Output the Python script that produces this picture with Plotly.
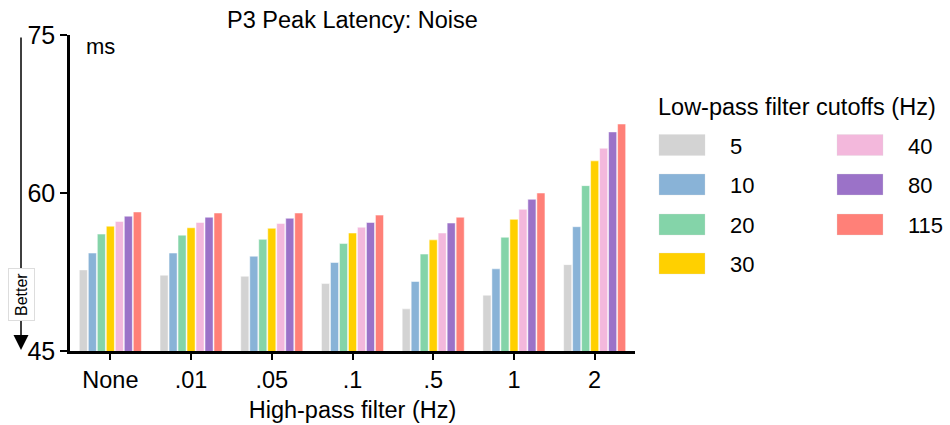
import plotly.graph_objects as go

# High-pass filter settings (x categories)
hp_filters = ["None", ".01", ".05", ".1", ".5", "1", "2"]

# Low-pass filter cutoffs (series) and their colours
lp_cutoffs = ["5", "10", "20", "30", "40", "80", "115"]
lp_colors = ["#d3d3d3", "#89b3d7", "#84d4a9", "#ffd000", "#f3b8dc", "#9b72c8", "#ff8078"]

# P3 peak latency noise (ms) for each low-pass cutoff across high-pass filters
lp_5 = [52.7, 52.2, 52.1, 51.4, 49.0, 50.3, 53.2]
lp_10 = [54.3, 54.3, 54.0, 53.4, 51.6, 52.8, 56.8]
lp_20 = [56.1, 56.0, 55.6, 55.2, 54.2, 55.8, 60.7]
lp_30 = [56.85, 56.7, 56.65, 56.2, 55.55, 57.5, 63.05]
lp_40 = [57.3, 57.2, 57.1, 56.75, 56.2, 58.45, 64.25]
lp_80 = [57.8, 57.7, 57.6, 57.2, 57.15, 59.4, 65.8]
lp_115 = [58.2, 58.1, 58.1, 57.9, 57.7, 60.0, 66.55]
series_values = [lp_5, lp_10, lp_20, lp_30, lp_40, lp_80, lp_115]

y_ticks = [45, 60, 75]

FONT = "Liberation Sans, Arial, Helvetica, sans-serif"
W, H = 950, 425
ML, MR, MT, MB = 70, 315, 35, 74


def px_x(px):
    """Pixel x -> paper x."""
    return (px - ML) / (W - ML - MR)


def px_y(py):
    """Pixel y -> paper y."""
    return (H - MB - py) / (H - MT - MB)


fig = go.Figure()
for name, color, vals in zip(lp_cutoffs, lp_colors, series_values):
    fig.add_trace(go.Bar(
        x=hp_filters, y=vals, name=name,
        marker=dict(color=color, line=dict(color="rgba(255,255,255,0.85)", width=0.6)),
        showlegend=False,
    ))

# Legend drawn as two columns of swatches
col_x = [659, 837]
row_y = [145, 184.5, 224.5, 263.5]
shapes = []
annotations = []
for i, (name, color) in enumerate(zip(lp_cutoffs, lp_colors)):
    col = 0 if i < 4 else 1
    row = i if i < 4 else i - 4
    x0 = col_x[col]
    yc = row_y[row]
    shapes.append(dict(
        type="rect", xref="paper", yref="paper",
        x0=px_x(x0), x1=px_x(x0 + 46), y0=px_y(yc + 10.5), y1=px_y(yc - 10.5),
        fillcolor=color, line=dict(color="rgba(220,220,220,0.6)", width=0.5),
    ))
    annotations.append(dict(
        xref="paper", yref="paper", x=px_x(x0 + 69), y=px_y(yc + 1),
        text=name, showarrow=False, xanchor="left", yanchor="middle",
        font=dict(size=22, color="black", family=FONT),
    ))

annotations.append(dict(
    xref="paper", yref="paper", x=px_x(656), y=px_y(107),
    text="Low-pass filter cutoffs (Hz)", showarrow=False,
    xanchor="left", yanchor="middle",
    font=dict(size=23.5, color="black", family=FONT),
))

# Unit label inside the plot
annotations.append(dict(
    xref="paper", yref="paper", x=px_x(84), y=px_y(47),
    text="ms", showarrow=False, xanchor="left", yanchor="middle",
    font=dict(size=22, color="black", family=FONT),
))

# "Better" direction arrow to the left of the axis
annotations.append(dict(
    xref="paper", yref="y", x=px_x(21), y=45.1,
    ax=0, ay=-314, text="", showarrow=True,
    arrowhead=2, arrowsize=2.0, arrowwidth=1.5, arrowcolor="black",
))
annotations.append(dict(
    xref="paper", yref="paper", x=px_x(21), y=px_y(295),
    xanchor="center", yanchor="middle",
    text="Better", showarrow=False, textangle=-90,
    bgcolor="white", bordercolor="#dddddd", borderwidth=1, borderpad=4,
    font=dict(size=16, color="black", family=FONT),
))

fig.update_layout(
    width=W, height=H,
    margin=dict(l=ML, r=MR, t=MT, b=MB),
    paper_bgcolor="white", plot_bgcolor="white",
    barmode="group", bargap=0.22, bargroupgap=0.1,
    font=dict(family=FONT, size=22, color="black"),
    title=dict(
        text="P3 Peak Latency: Noise", x=0.5, xref="paper",
        y=1 - 20 / H, yref="container", yanchor="middle", xanchor="center",
        font=dict(size=23.5, color="black", family=FONT),
    ),
    shapes=shapes,
    annotations=annotations,
)

fig.update_xaxes(
    type="category", range=[-0.5, len(hp_filters) - 0.5],
    showline=True, linecolor="black", linewidth=2.5,
    ticks="outside", ticklen=6, tickwidth=2, tickcolor="black",
    showgrid=False, zeroline=False, automargin=False,
    tickfont=dict(size=23.5),
    title=dict(text="High-pass filter (Hz)", font=dict(size=23.5), standoff=10),
)
fig.update_yaxes(
    range=[45, 75], tickvals=y_ticks,
    showline=True, linecolor="black", linewidth=2.5,
    ticks="outside", ticklen=7, tickwidth=2, tickcolor="black",
    showgrid=False, zeroline=False, automargin=False,
    tickfont=dict(size=25),
)

fig.write_html("out.html")
